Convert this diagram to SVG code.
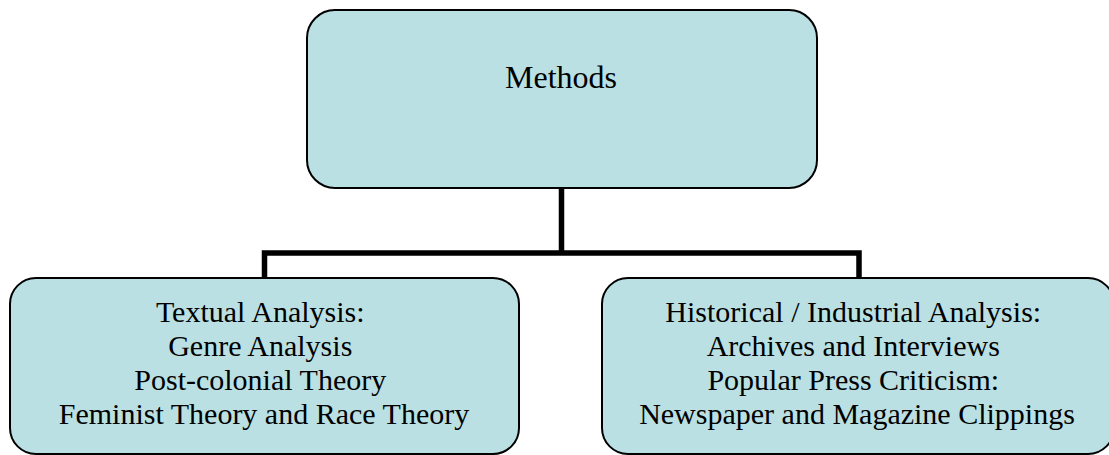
<svg xmlns="http://www.w3.org/2000/svg" width="1109" height="455" viewBox="0 0 1109 455">
<style>
.box{fill:#BBE0E3;stroke:#000;stroke-width:2}
.t{font-family:"Liberation Serif","Times New Roman",serif;fill:#000;text-anchor:middle}
.conn{fill:none;stroke:#000;stroke-width:5.5;stroke-linecap:butt}
</style>
<rect width="1109" height="455" fill="#fff"/>
<g id="connectors">
<path class="conn" d="M561.5,188 V253"/>
<path class="conn" d="M264.5,278 V253 H859 V278"/>
</g>
<g id="methods">
<rect class="box" x="307" y="10" width="510" height="178" rx="28" ry="28"/>
<text class="t" x="561" y="88" font-size="32">Methods</text>
</g>
<g id="textual">
<rect class="box" x="10" y="278" width="509" height="176" rx="26" ry="26"/>
<text class="t" font-size="30">
<tspan x="264" y="322">Textual Analysis:</tspan>
<tspan x="264" y="356">Genre Analysis</tspan>
<tspan x="264" y="390">Post-colonial Theory</tspan>
<tspan x="264" y="424">Feminist Theory and Race Theory</tspan>
</text>
</g>
<g id="historical">
<rect class="box" x="602" y="278" width="512" height="176" rx="26" ry="26"/>
<text class="t" font-size="30">
<tspan x="857" y="322">Historical / Industrial Analysis:</tspan>
<tspan x="857" y="356">Archives and Interviews</tspan>
<tspan x="857" y="390">Popular Press Criticism:</tspan>
<tspan x="857" y="424">Newspaper and Magazine Clippings</tspan>
</text>
</g>
</svg>
